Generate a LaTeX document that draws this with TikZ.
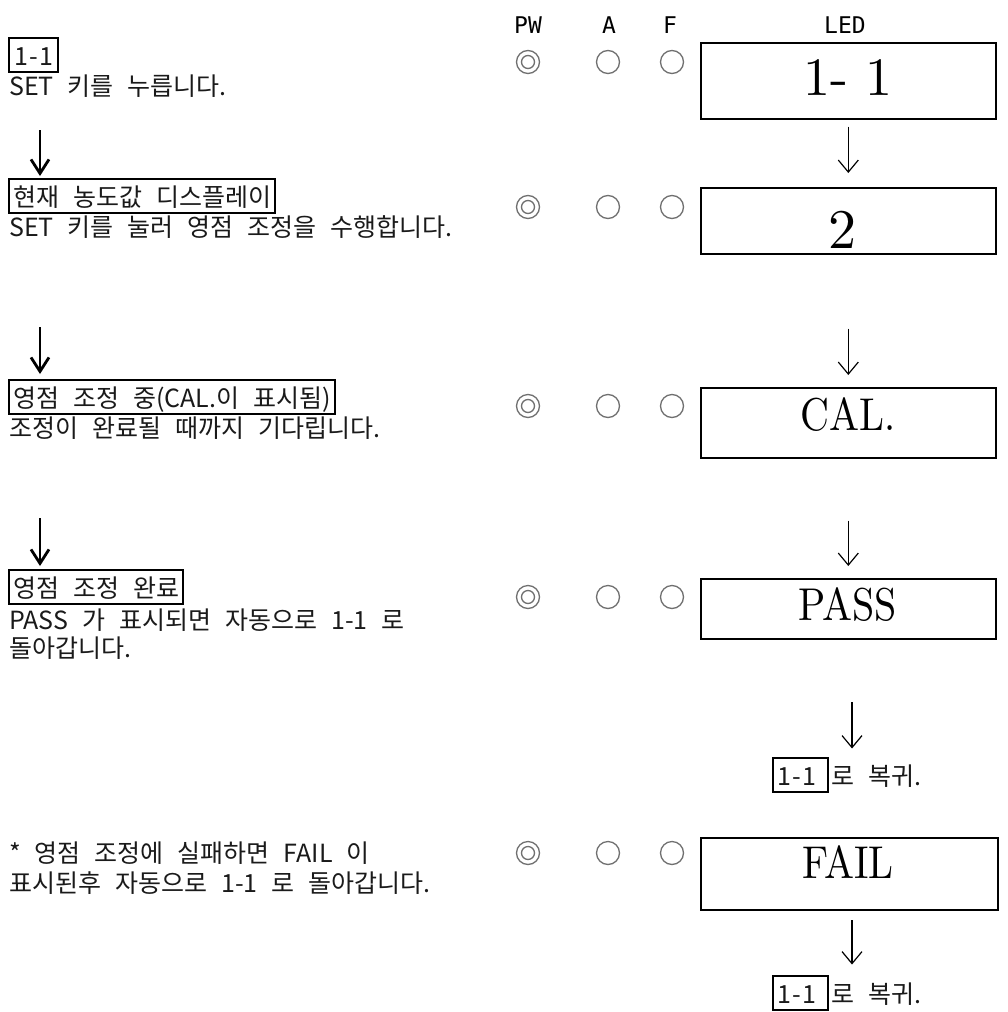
\documentclass[tikz,border=0pt]{standalone}
\usepackage{fontspec}
\usepackage{graphicx}
\usetikzlibrary{arrows.meta}
\newfontfamily\kr[WordSpace=2.5]{Noto Sans CJK KR}
\newfontfamily\hdr{DejaVu Sans Mono}
\newfontfamily\ledfont{lmroman10-regular.otf}
\definecolor{txt}{HTML}{1A1A1A}
\definecolor{lampgray}{HTML}{707070}
\begin{document}
\begin{tikzpicture}[x=1pt,y=-1pt,
  every node/.style={inner sep=0pt},
  krtext/.style={font=\kr\fontsize{25}{29}\selectfont, anchor=base west, text=txt},
  stepbox/.style={draw=black, line width=2pt, font=\kr\fontsize{25}{29}\selectfont, text=txt,
    inner xsep=4pt, text height=22pt, text depth=1pt, minimum height=34pt, anchor=west},
  hdrtext/.style={font=\hdr\fontsize{23}{23}\selectfont, anchor=base},
  ledbox/.style={draw=black, line width=1.6pt, minimum width=295pt, anchor=north west},
  ledtext/.style={anchor=base, text=black},
  lamp/.style={circle, draw=lampgray, line width=1.3pt, minimum size=23pt},
  pwlamp/.style={lamp, path picture={\draw[lampgray, line width=1.3pt] (path picture bounding box.center) circle (6.5pt);}},
  thickarrow/.style={line width=2.8pt, -{Straight Barb[length=14pt, width=18pt, line width=2.8pt]}},
  thinarrow/.style={line width=1.2pt, -{Straight Barb[length=12pt, width=20pt, line width=1.2pt]}}
]
\useasboundingbox[fill=white] (0,0) rectangle (1007,1012);

% headers
\node[hdrtext] (hpw) at (528,33) {PW};
\node[hdrtext] (ha) at (609,33) {A};
\node[hdrtext] (hf) at (670,33) {F};
\node[hdrtext] (hled) at (845,33) {LED};

% lamps
\foreach \r/\yy in {1/62,2/207,3/406,4/597,5/853}{
  \node[pwlamp] (pw\r) at (528,\yy) {};
  \node[lamp] (la\r) at (608,\yy) {};
  \node[lamp] (lf\r) at (672,\yy) {};
}

% LED boxes
\node[ledbox, minimum height=76pt] (b1) at (700,42) {};
\node[ledbox, minimum height=66pt] (b2) at (700,187) {};
\node[ledbox, minimum height=70pt] (b3) at (700,387) {};
\node[ledbox, minimum height=60pt] (b4) at (700,578) {};
\node[ledbox, minimum height=72pt, minimum width=297pt] (b5) at (700,837) {};

\node[ledtext, font=\ledfont\fontsize{54}{54}\selectfont] (v1) at (848,95) {1- 1};
\node[ledtext, font=\ledfont\fontsize{56}{56}\selectfont] (v2) at (842,248) {2};
\node[ledtext, font=\ledfont\fontsize{46}{46}\selectfont] (v3) at (848,430) {\scalebox{0.87}[1]{CAL.}};
\node[ledtext, font=\ledfont\fontsize{46}{46}\selectfont] (v4) at (848,620) {\scalebox{0.87}[1]{PASS}};
\node[ledtext, font=\ledfont\fontsize{46}{46}\selectfont] (v5) at (848,878) {\scalebox{0.87}[1]{FAIL}};

% return labels
\node[stepbox] (r1) at (772,774.5) {1\kern1.5pt-\kern1.5pt1\kern8pt};
\node[krtext, anchor=base west] (rt1) at ([xshift=2pt]r1.base east) {로 복귀.};
\node[stepbox] (r2) at (772,992.5) {1\kern1.5pt-\kern1.5pt1\kern8pt};
\node[krtext, anchor=base west] (rt2) at ([xshift=2pt]r2.base east) {로 복귀.};

% right arrows
\draw[thinarrow, shorten <=7pt, shorten >=14pt] (b1.south) -- (b2.north);
\draw[thinarrow, shorten <=74pt, shorten >=12pt] (b2.south) -- (b3.north);
\draw[thinarrow, shorten <=62pt, shorten >=12pt] (b3.south) -- (b4.north);
\coordinate (ra4) at (852,702);
\draw[thinarrow, shorten >=8pt] (ra4) -- (ra4 |- r1.north);
\coordinate (ra5) at (852,920);
\draw[thinarrow, shorten >=10pt] (ra5) -- (ra5 |- r2.north);

% left column
\node[stepbox, inner xsep=5pt] (s1) at (8,55) {1\kern1.5pt-\kern1.5pt1};
\node[krtext] (l1) at (9,95) {SET 키를 누릅니다.};
\node[stepbox] (s2) at (8,196) {현재 농도값 디스플레이};
\node[krtext] (l2) at (9,236) {SET 키를 눌러 영점 조정을 수행합니다.};
\node[stepbox] (s3) at (8,396.5) {영점 조정 중(CAL.이 표시됨)};
\node[krtext] (l3) at (9,437) {조정이 완료될 때까지 기다립니다.};
\node[stepbox] (s4) at (8,587) {영점 조정 완료};
\node[krtext] (l4) at (9,629) {PASS 가 표시되면 자동으로 1-1 로};
\node[krtext] (l5) at (9,657) {돌아갑니다.};
\node[krtext] (l6) at (9,862) {* 영점 조정에 실패하면 FAIL 이};
\node[krtext] (l7) at (9,892) {표시된후 자동으로 1-1 로 돌아갑니다.};

% left arrows
\coordinate (a1s) at (40,130); \coordinate (a1e) at (40,176);
\coordinate (a2s) at (40,327); \coordinate (a2e) at (40,374);
\coordinate (a3s) at (40,518); \coordinate (a3e) at (40,566);
\draw[thickarrow] (a1s) -- (a1e);
\draw[thickarrow] (a2s) -- (a2e);
\draw[thickarrow] (a3s) -- (a3e);
\end{tikzpicture}
\end{document}
